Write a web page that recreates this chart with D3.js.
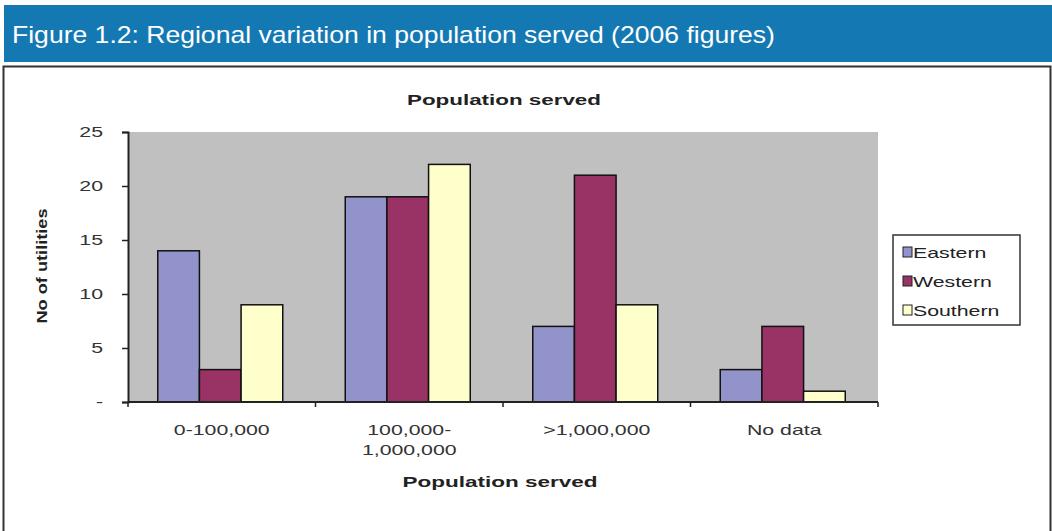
<!DOCTYPE html>
<html>
<head>
<meta charset="utf-8">
<script src="https://cdn.jsdelivr.net/npm/d3@7"></script>
<style>
  body { margin: 0; background: #fff; }
  svg text { font-family: Arial, "Liberation Sans", sans-serif; }
</style>
</head>
<body>
<div id="chart"></div>
<script>
// data
var categories = ["0-100,000", "100,000-\n1,000,000", ">1,000,000", "No data"];
var regions = ["Eastern", "Western", "Southern"];
var eastern = [14, 19, 7, 3];
var western = [3, 19, 21, 7];
var southern = [9, 22, 9, 1];
var yTicks = [0, 5, 10, 15, 20, 25];

var colors = { Eastern: "#9393cc", Western: "#993366", Southern: "#ffffcc" };
var seriesValues = { Eastern: eastern, Western: western, Southern: southern };

var W = 1052, H = 531;
var SX = 1.42; // the source picture is stretched sideways, text too
var svg = d3.select("#chart").append("svg").attr("width", W).attr("height", H);

// put a (horizontally stretched) text at x,y
function label(parent, x, y, txt, size, anchor, sx, bold) {
  var g = parent.append("g")
    .attr("transform", "translate(" + x + "," + y + ") scale(" + (sx || SX) + ",1)");
  return g.append("text")
    .attr("text-anchor", anchor || "start")
    .style("font-size", size + "px")
    .style("font-weight", bold ? "bold" : "normal")
    .attr("fill", "#222")
    .text(txt);
}

// header band
svg.append("rect").attr("x", 4).attr("y", 5).attr("width", W - 4).attr("height", 57)
  .attr("fill", "#1479b3");
label(svg, 12, 43, "Figure 1.2: Regional variation in population served (2006 figures)", 23, "start", 1.155)
  .attr("fill", "#fff");

// frame around the chart
svg.append("rect").attr("x", 3.5).attr("y", 66.5).attr("width", W - 5).attr("height", H)
  .attr("fill", "#fff").attr("stroke", "#333").attr("stroke-width", 2);

var plot = { left: 128, right: 878, top: 132, bottom: 402 };

var x0 = d3.scaleBand().domain(d3.range(categories.length))
  .range([plot.left, plot.right]).paddingInner(0).paddingOuter(0);
var x1 = d3.scaleBand().domain(regions)
  .range([0, x0.bandwidth()]).paddingOuter(0.75).paddingInner(0);
var y = d3.scaleLinear().domain([0, 25]).range([plot.bottom, plot.top]);

// plot background
svg.append("rect").attr("x", plot.left).attr("y", plot.top)
  .attr("width", plot.right - plot.left).attr("height", plot.bottom - plot.top)
  .attr("fill", "#c0c0c0");

// bars
var groups = svg.selectAll("g.grp").data(categories).enter().append("g")
  .attr("class", "grp")
  .attr("transform", function (d, i) { return "translate(" + x0(i) + ",0)"; });

groups.selectAll("rect").data(function (d, i) {
  return regions.map(function (r) { return { region: r, value: seriesValues[r][i] }; });
}).enter().append("rect")
  .attr("x", function (d) { return x1(d.region) - 1.5; })
  .attr("y", function (d) { return y(d.value); })
  .attr("width", x1.bandwidth())
  .attr("height", function (d) { return y(0) - y(d.value); })
  .attr("fill", function (d) { return colors[d.region]; })
  .attr("stroke", "#111")
  .attr("stroke-width", 1.5);

// y axis
var yAxis = d3.axisLeft(y).tickValues(yTicks).tickSize(6).tickFormat("");
var ya = svg.append("g").attr("transform", "translate(" + plot.left + ",0)").call(yAxis);
ya.select(".domain").attr("stroke", "#222").attr("stroke-width", 2);
ya.selectAll(".tick line").attr("stroke", "#222").attr("stroke-width", 1.5);
yTicks.forEach(function (t) {
  label(svg, 103, y(t) + 5, t === 0 ? "-" : String(t), 15, "end").attr("fill", "#333");
});

// x axis
var xEdges = d3.range(categories.length + 1).map(function (i) {
  return plot.left + i * x0.bandwidth();
});
var xa = svg.append("g");
xa.append("line").attr("x1", plot.left).attr("x2", plot.right)
  .attr("y1", plot.bottom).attr("y2", plot.bottom)
  .attr("stroke", "#222").attr("stroke-width", 2);
xa.selectAll("line.tk").data(xEdges).enter().append("line").attr("class", "tk")
  .attr("x1", function (d) { return d; }).attr("x2", function (d) { return d; })
  .attr("y1", plot.bottom).attr("y2", plot.bottom + 5)
  .attr("stroke", "#222").attr("stroke-width", 1.5);
categories.forEach(function (c, i) {
  c.split("\n").forEach(function (line, k) {
    label(xa, x0(i) + x0.bandwidth() / 2, 435 + k * 20, line, 15, "middle").attr("fill", "#333");
  });
});

// titles
label(svg, 504, 105, "Population served", 14, "middle", 1.6, true);
label(svg, 500, 487, "Population served", 15, "middle", 1.5, true);
svg.append("g").attr("transform", "translate(47,266) rotate(-90) scale(1.3,1)")
  .append("text")
  .attr("text-anchor", "middle").style("font-size", "14px").style("font-weight", "bold")
  .attr("fill", "#222").text("No of utilities");

// legend
var lg = svg.append("g").attr("transform", "translate(893,235)");
lg.append("rect").attr("width", 127).attr("height", 90)
  .attr("fill", "#fff").attr("stroke", "#333").attr("stroke-width", 1.5);
var items = lg.selectAll("g").data(regions).enter().append("g")
  .attr("transform", function (d, i) { return "translate(0," + (17 + i * 29) + ")"; });
items.append("rect").attr("x", 10).attr("y", -5).attr("width", 9).attr("height", 10)
  .attr("fill", function (d) { return colors[d]; })
  .attr("stroke", "#222").attr("stroke-width", 1);
items.each(function (d) {
  label(d3.select(this), 20, 6, d, 15, "start", 1.42);
});
</script>
</body>
</html>
